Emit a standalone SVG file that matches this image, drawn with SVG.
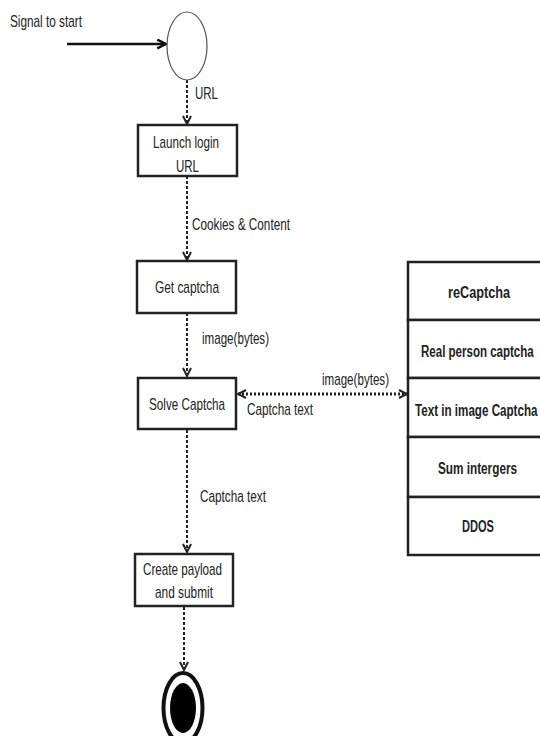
<svg xmlns="http://www.w3.org/2000/svg" width="540" height="736" viewBox="0 0 540 736">
<style>
text{font-family:"Liberation Sans",Arial,sans-serif;font-size:17px;fill:#222}
.b{font-weight:bold}
.box{fill:#fff;stroke:#222;stroke-width:2.5}
.dash{fill:none;stroke:#222;stroke-width:2;stroke-dasharray:3,2}
.dot{fill:none;stroke:#222;stroke-width:3;stroke-dasharray:2,2}
</style>
<defs>
<marker id="ah" viewBox="0 0 10 10" refX="9" refY="5" markerWidth="10" markerHeight="10" markerUnits="userSpaceOnUse" orient="auto-start-reverse">
<path d="M1,1 L9,5 L1,9" fill="none" stroke="#222" stroke-width="2"/>
</marker>
<marker id="ahs" viewBox="0 0 10 10" refX="9" refY="5" markerWidth="11" markerHeight="11" markerUnits="userSpaceOnUse" orient="auto">
<path d="M1,1 L9,5 L1,9" fill="none" stroke="#111" stroke-width="2.2"/>
</marker>
</defs>
<g id="connectors">
<line x1="67" y1="44" x2="166" y2="44" stroke="#111" stroke-width="2.5" marker-end="url(#ahs)"/>
<text x="10" y="27" textLength="72" lengthAdjust="spacingAndGlyphs">Signal to start</text>
<line class="dash" x1="187" y1="80" x2="187" y2="124" marker-end="url(#ah)"/>
<text x="195" y="99" textLength="23" lengthAdjust="spacingAndGlyphs">URL</text>
<line class="dash" x1="187" y1="176" x2="187" y2="260" marker-end="url(#ah)"/>
<text x="192" y="230" textLength="98" lengthAdjust="spacingAndGlyphs">Cookies &amp; Content</text>
<line class="dash" x1="187" y1="313" x2="187" y2="376" marker-end="url(#ah)"/>
<text x="202" y="344" textLength="67" lengthAdjust="spacingAndGlyphs">image(bytes)</text>
<line class="dot" x1="238" y1="394" x2="407" y2="394" marker-start="url(#ah)" marker-end="url(#ah)"/>
<text x="322" y="385" textLength="67" lengthAdjust="spacingAndGlyphs">image(bytes)</text>
<text x="247" y="415" textLength="66" lengthAdjust="spacingAndGlyphs">Captcha text</text>
<line class="dash" x1="187" y1="430" x2="187" y2="552" marker-end="url(#ah)"/>
<text x="200" y="502" textLength="66" lengthAdjust="spacingAndGlyphs">Captcha text</text>
<line class="dash" x1="184" y1="607" x2="184" y2="670" marker-end="url(#ah)"/>
</g>
<g id="start">
<ellipse cx="187" cy="46" rx="20" ry="34" fill="#fff" stroke="#555" stroke-width="1.2"/>
</g>
<g id="launch">
<rect class="box" x="138" y="125" width="99" height="51"/>
<text x="153" y="148" textLength="66" lengthAdjust="spacingAndGlyphs">Launch login</text>
<text x="176" y="172" textLength="23" lengthAdjust="spacingAndGlyphs">URL</text>
</g>
<g id="getcaptcha">
<rect class="box" x="137" y="261" width="99" height="52"/>
<text x="155" y="293" textLength="64" lengthAdjust="spacingAndGlyphs">Get captcha</text>
</g>
<g id="solve">
<rect class="box" x="138" y="378" width="98" height="51"/>
<text x="149" y="410" textLength="76" lengthAdjust="spacingAndGlyphs">Solve Captcha</text>
</g>
<g id="types">
<rect class="box" x="408" y="262" width="145" height="58"/>
<rect class="box" x="408" y="320" width="145" height="58"/>
<rect class="box" x="408" y="378" width="145" height="59"/>
<rect class="box" x="408" y="437" width="145" height="60"/>
<rect class="box" x="408" y="497" width="145" height="58"/>
<text class="b" transform="translate(448,298) scale(0.7,1)" x="0" y="0" textLength="88.6" lengthAdjust="spacingAndGlyphs">reCaptcha</text>
<text class="b" transform="translate(421,357) scale(0.7,1)" x="0" y="0" textLength="161" lengthAdjust="spacingAndGlyphs">Real person captcha</text>
<text class="b" transform="translate(415,416) scale(0.7,1)" x="0" y="0" textLength="175" lengthAdjust="spacingAndGlyphs">Text in image Captcha</text>
<text class="b" transform="translate(438,474) scale(0.7,1)" x="0" y="0" textLength="112.9" lengthAdjust="spacingAndGlyphs">Sum intergers</text>
<text class="b" transform="translate(462,532) scale(0.7,1)" x="0" y="0" textLength="45.7" lengthAdjust="spacingAndGlyphs">DDOS</text>
</g>
<g id="payload">
<rect class="box" x="135" y="554" width="98" height="52"/>
<text x="143" y="575" textLength="79" lengthAdjust="spacingAndGlyphs">Create payload</text>
<text x="155" y="598" textLength="58" lengthAdjust="spacingAndGlyphs">and submit</text>
</g>
<g id="end">
<ellipse cx="183" cy="708" rx="19.5" ry="35" fill="#fff" stroke="#111" stroke-width="4"/>
<ellipse cx="183" cy="708" rx="13" ry="25" fill="#000"/>
</g>
</svg>
